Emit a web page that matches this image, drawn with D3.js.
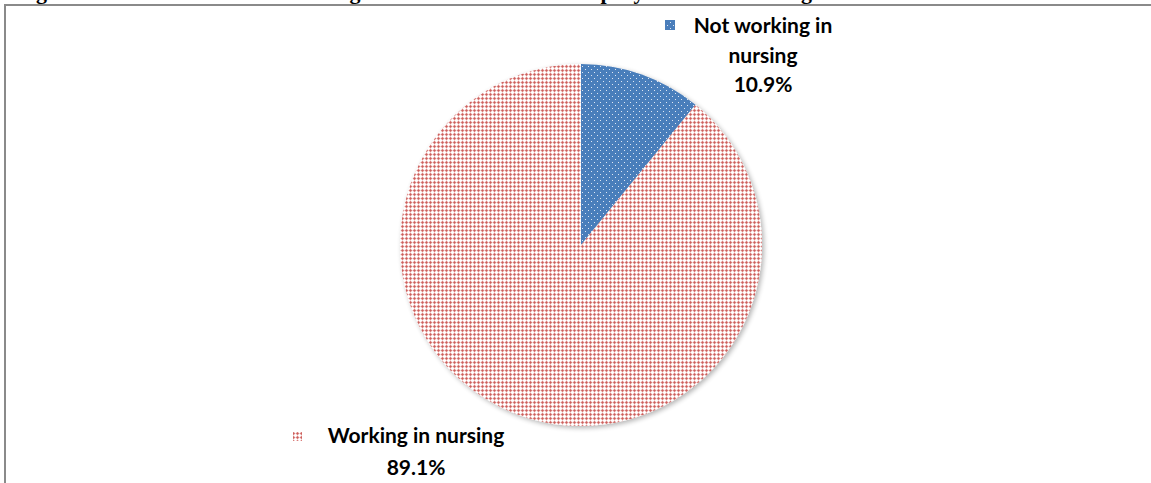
<!DOCTYPE html>
<html>
<head>
<meta charset="utf-8">
<script src="https://cdn.jsdelivr.net/npm/d3@7"></script>
<style>
  html, body { margin: 0; padding: 0; background: #fff; }
  svg { display: block; }
</style>
</head>
<body>
<svg id="chart" width="1151" height="483"></svg>
<script>
// ---- data ----
const categories = ["Not working in nursing", "Working in nursing"];
const values = [10.9, 89.1];
const labelLines = [["Not working in", "nursing"], ["Working in nursing"]];
const titleText = "Figure 1: Distribution of nursing alumni in terms of employment in nursing";

// ---- setup ----
const W = 1151, H = 483;
const svg = d3.select("#chart");
const defs = svg.append("defs");

// blue dotted pattern
const pBlue = defs.append("pattern").attr("id", "pBlue")
  .attr("patternUnits", "userSpaceOnUse").attr("width", 6).attr("height", 6);
pBlue.append("rect").attr("width", 6).attr("height", 6).attr("fill", "#4a7ebb");
pBlue.append("rect").attr("x", 1).attr("y", 1).attr("width", 1).attr("height", 1).attr("fill", "#dfe7f3");
pBlue.append("rect").attr("x", 4).attr("y", 4).attr("width", 1).attr("height", 1).attr("fill", "#dfe7f3");

// red cross pattern
const pRed = defs.append("pattern").attr("id", "pRed")
  .attr("patternUnits", "userSpaceOnUse").attr("width", 4).attr("height", 4)
  .attr("shape-rendering", "crispEdges");
pRed.append("rect").attr("width", 4).attr("height", 4).attr("fill", "#f4d3d2");
[[1,0],[0,1],[2,1],[1,2]].forEach(([x,y]) =>
  pRed.append("rect").attr("x", x).attr("y", y).attr("width", 1).attr("height", 1).attr("fill", "#d97f7c"));
[[1,1]].forEach(([x,y]) =>
  pRed.append("rect").attr("x", x).attr("y", y).attr("width", 1).attr("height", 1).attr("fill", "#c9605d"));
[[3,2],[2,3],[3,3],[0,3],[3,0]].forEach(([x,y]) =>
  pRed.append("rect").attr("x", x).attr("y", y).attr("width", 1).attr("height", 1).attr("fill", "#ffffff"));

// shadow
const f = defs.append("filter").attr("id", "shadow")
  .attr("x", "-10%").attr("y", "-10%").attr("width", "120%").attr("height", "120%");
f.append("feGaussianBlur").attr("in", "SourceAlpha").attr("stdDeviation", 2.5).attr("result", "b");
f.append("feOffset").attr("in", "b").attr("dx", 1.5).attr("dy", 2).attr("result", "o");
f.append("feComponentTransfer").attr("in", "o").attr("result", "s")
  .append("feFuncA").attr("type", "linear").attr("slope", 0.3);
const fm = f.append("feMerge");
fm.append("feMergeNode").attr("in", "s");
fm.append("feMergeNode").attr("in", "SourceGraphic");

const fills = d3.scaleOrdinal().domain(categories).range(["url(#pBlue)", "url(#pRed)"]);

// title (cut off at the top as in reference)
svg.append("text")
  .attr("x", 14).attr("y", -1.5)
  .attr("textLength", 798).attr("lengthAdjust", "spacing")
  .style("font-family", "'Liberation Serif', 'Times New Roman', serif")
  .style("font-weight", "bold").style("font-size", "22px")
  .attr("fill", "#000")
  .text(titleText);

// frame
svg.append("line").attr("x1", 4).attr("x2", W).attr("y1", 5).attr("y2", 5)
  .attr("stroke", "#8a8a8a").attr("stroke-width", 2);
svg.append("line").attr("x1", 5).attr("x2", 5).attr("y1", 4).attr("y2", H)
  .attr("stroke", "#8a8a8a").attr("stroke-width", 2);

// pie
const cx = 581, cy = 245, R = 181;
const pie = d3.pie().sort(null).value(d => d);
const arc = d3.arc().innerRadius(0).outerRadius(R);
const g = svg.append("g").attr("transform", `translate(${cx},${cy})`).attr("filter", "url(#shadow)");
g.selectAll("path").data(pie(values)).enter().append("path")
  .attr("d", arc)
  .attr("fill", (d, i) => fills(categories[i]));

// labels
const fontFam = "Lato, 'Open Sans', sans-serif";
function label(i, x, yTop, lines, keyX, keyY, keySize, lh) {
  const t = svg.append("text")
    .attr("text-anchor", "middle")
    .style("font-family", fontFam).style("font-weight", "bold").style("font-size", "21px")
    .attr("fill", "#000");
  const all = lines.concat([values[i].toFixed(1) + "%"]);
  all.forEach((s, k) => t.append("tspan").attr("x", x).attr("y", yTop + k * lh).text(s));
  svg.append("rect").attr("x", keyX).attr("y", keyY).attr("width", keySize).attr("height", keySize)
    .attr("fill", fills(categories[i]));
}
label(0, 763, 33, labelLines[0], 665, 20, 10, 29.5);
label(1, 416, 443, labelLines[1], 293, 432, 9, 32);
</script>
</body>
</html>
